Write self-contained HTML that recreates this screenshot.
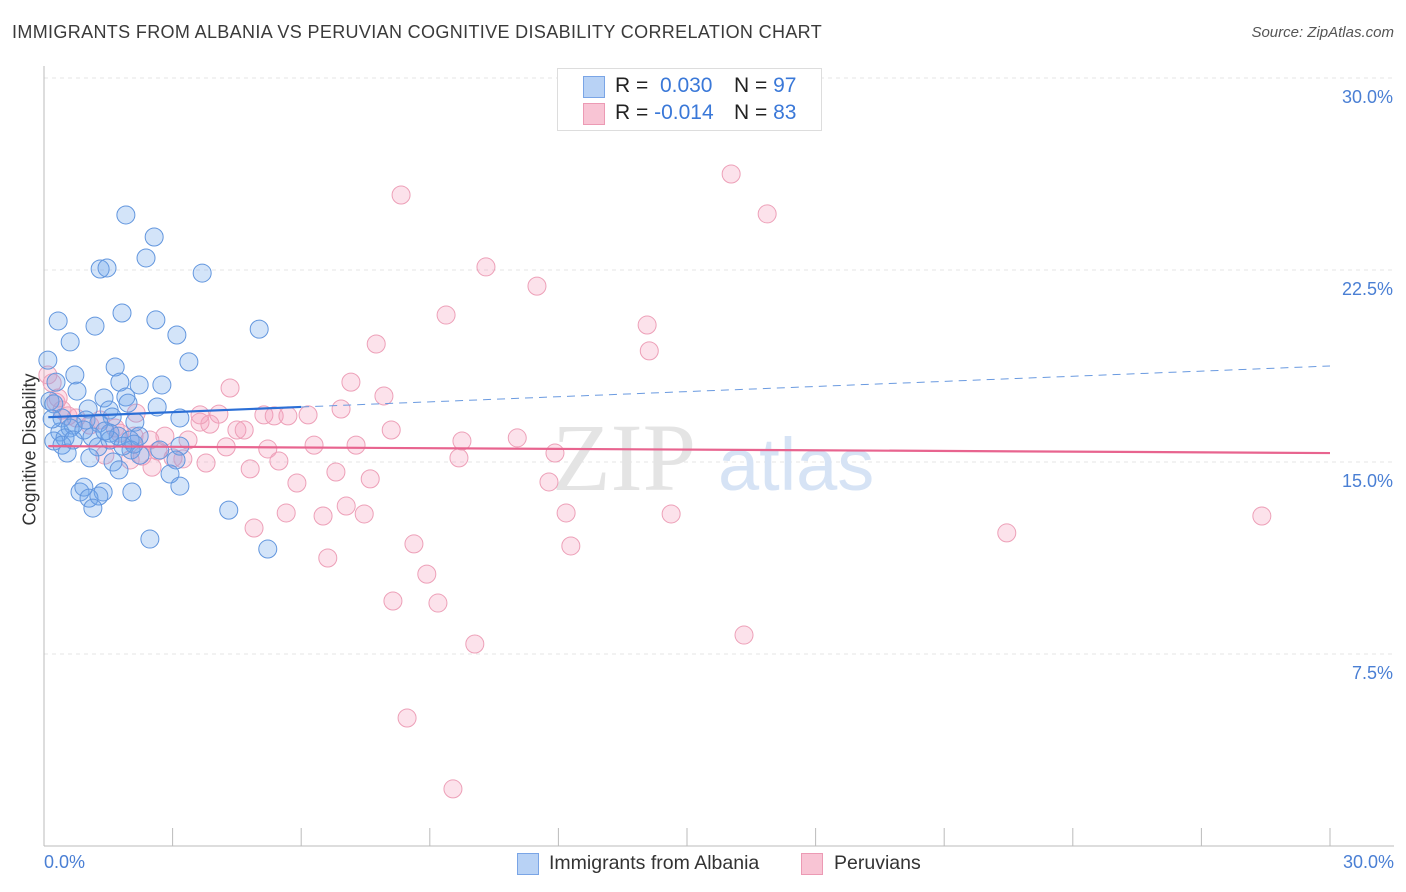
<!DOCTYPE html>
<html><head><meta charset="utf-8"><style>
body{margin:0;background:#fff;font-family:"Liberation Sans",sans-serif;}
#wrap{position:relative;width:1406px;height:892px;overflow:hidden;}
.t{position:absolute;white-space:nowrap;}
</style></head><body>
<div id="wrap">
<div class="t" style="left:12px;top:22px;font-size:18px;color:#3a3a3a;letter-spacing:0.35px">IMMIGRANTS FROM ALBANIA VS PERUVIAN COGNITIVE DISABILITY CORRELATION CHART</div>
<div class="t" style="right:12px;top:24px;font-size:15px;color:#555;font-style:italic">Source: ZipAtlas.com</div>
<svg id="svg" width="1406" height="892" style="position:absolute;left:0;top:0"></svg>
</div>
<script>
const xTicks=[0,3,6,9,12,15,18,21,24,27,30];
const yTicks=[7.5,15,22.5,30];
const yTickLabels=["7.5%","15.0%","22.5%","30.0%"];
const blueX=[1.91,2.57,2.38,1.31,1.47,3.69,1.82,0.33,2.61,1.19,3.10,5.02,0.61,3.38,1.66,0.09,0.72,0.28,1.77,2.22,2.75,0.77,1.40,1.91,0.14,0.23,1.03,1.96,1.52,2.64,0.42,1.59,3.17,0.98,1.28,0.68,2.12,0.37,0.61,0.93,1.54,0.23,0.49,1.12,0.42,1.73,2.22,1.26,2.01,3.17,0.54,1.07,2.03,2.24,1.61,1.75,3.08,2.94,0.84,0.93,1.38,2.05,1.05,1.28,1.14,3.17,4.31,2.47,5.22,1.54,2.10,2.70,0.68,1.42,0.19,1.84];
const blueY=[24.65,23.79,22.97,22.54,22.58,22.38,20.82,20.51,20.55,20.31,19.96,20.19,19.69,18.91,18.71,18.98,18.40,18.12,18.12,18.01,18.01,17.77,17.50,17.54,17.38,17.27,17.07,17.30,17.03,17.15,16.72,16.76,16.72,16.64,16.52,16.44,16.56,16.17,16.33,16.25,16.13,15.82,15.94,15.98,15.66,16.01,16.01,15.59,15.86,15.62,15.35,15.16,15.47,15.27,15.00,14.69,15.08,14.53,13.83,14.02,13.83,13.83,13.59,13.67,13.20,14.06,13.12,11.99,11.60,15.86,15.70,15.47,15.86,16.21,16.68,15.62];
const pinkX=[8.33,16.03,16.87,10.31,11.50,9.38,14.07,14.12,7.75,7.16,4.34,7.93,6.93,6.16,4.08,5.13,5.37,5.69,3.64,3.87,4.50,4.67,8.10,11.04,9.75,2.82,3.36,6.30,7.28,4.25,5.22,2.66,11.92,2.29,3.24,5.48,9.68,3.01,3.78,2.52,4.81,6.81,7.61,5.90,11.78,3.64,2.15,5.65,6.51,7.05,7.47,12.18,14.63,4.90,8.63,12.29,22.46,28.41,6.62,8.93,8.14,9.19,16.33,10.05,8.47,9.54,0.28,0.42,0.56,0.75,1.07,1.77,2.10,2.47,0.09,0.19,1.31,1.66,2.01,1.42,0.33];
const pinkY=[25.43,26.25,24.69,22.62,21.87,20.74,20.35,19.34,19.61,18.12,17.89,17.58,17.07,16.84,16.87,16.84,16.80,16.80,16.56,16.48,16.25,16.25,16.25,15.94,15.82,16.01,15.86,15.66,15.66,15.59,15.51,15.43,15.35,15.23,15.12,15.04,15.16,15.16,14.96,14.80,14.73,14.61,14.34,14.18,14.22,16.84,16.91,13.01,12.89,13.28,12.97,13.01,12.97,12.42,11.80,11.72,12.23,12.89,11.25,10.62,9.57,9.49,8.24,7.89,5.00,2.23,17.34,17.03,16.80,16.72,16.44,16.13,16.01,15.86,18.40,18.09,16.64,16.33,15.08,15.27,17.50];
const blueTrendX=[0.1,6.0,30];
const blueTrendY=[16.75,17.15,18.75];
const pinkTrendX=[0.1,30];
const pinkTrendY=[15.62,15.35];

const X0=44,X1=1330,Y0=846,Y1=78;
const sx=v=>X0+(v/30)*(X1-X0);
const sy=v=>Y0-(v/30)*(Y0-Y1);
const svg=document.getElementById('svg');
const NS='http://www.w3.org/2000/svg';
function mk(tag,attrs,parent){const e=document.createElementNS(NS,tag);for(const k in attrs)e.setAttribute(k,attrs[k]);(parent||svg).appendChild(e);return e;}

yTicks.forEach((t,i)=>{
 const g=mk('line',{x1:X0,x2:1394,y1:sy(t),y2:sy(t),stroke:'#e4e4e4','stroke-dasharray':'4,4','stroke-width':1});
 
 
 const l=mk('text',{x:1393,y:sy(t)+25,'text-anchor':'end','font-size':18,fill:'#4a7fd4','font-family':'Liberation Sans, sans-serif'});
 l.textContent=yTickLabels[i];
 
 
});
const ax=mk('line',{x1:X0,x2:X0,y1:66,y2:Y0,stroke:'#bbb','stroke-width':1});


const bx=mk('line',{x1:X0,x2:1394,y1:Y0,y2:Y0,stroke:'#bbb','stroke-width':1});


xTicks.forEach(t=>{
 const tk=mk('line',{x1:sx(t),x2:sx(t),y1:828,y2:Y0,stroke:'#bbb','stroke-width':1});
 
 
});
const wm=mk('text',{x:552,y:490,'font-size':96,fill:'#e4e4e4','font-family':'Liberation Serif, serif'});
wm.textContent='ZIP';


const wm2=mk('text',{x:718,y:490,'font-size':74,fill:'#d6e3f5','font-family':'Liberation Sans, sans-serif'});
wm2.textContent='atlas';



pinkX.forEach((v,i)=>{
 const c=mk('circle',{cx:sx(v),cy:sy(pinkY[i]),r:9,fill:'rgba(244,160,190,0.3)',stroke:'#eda0b8','stroke-width':1});
 
 
});
blueX.forEach((v,i)=>{
 const c=mk('circle',{cx:sx(v),cy:sy(blueY[i]),r:9,fill:'rgba(110,165,235,0.3)',stroke:'#6296de','stroke-width':1});
 
 
});
const bt1=mk('line',{x1:sx(blueTrendX[0]),y1:sy(blueTrendY[0]),x2:sx(blueTrendX[1]),y2:sy(blueTrendY[1]),stroke:'#2b6fd6','stroke-width':2.2});


const bt2=mk('line',{x1:sx(blueTrendX[1]),y1:sy(blueTrendY[1]),x2:sx(blueTrendX[2]),y2:sy(blueTrendY[2]),stroke:'#6a9ae0','stroke-width':1,'stroke-dasharray':'8,6'});


const pt=mk('line',{x1:sx(pinkTrendX[0]),y1:sy(pinkTrendY[0]),x2:sx(pinkTrendX[1]),y2:sy(pinkTrendY[1]),stroke:'#e8648f','stroke-width':2.2});


</script>
<div class="t" style="left:-40px;top:445px;width:140px;text-align:center;transform:rotate(-90deg);font-size:18px;color:#333">Cognitive Disability</div>
<div class="t" style="left:44px;top:852px;font-size:18px;color:#4a7fd4">0.0%</div>
<div class="t" style="right:12px;top:852px;font-size:18px;color:#4a7fd4">30.0%</div>
<div style="position:absolute;left:557px;top:68px;width:263px;height:61px;border:1px solid #ddd;background:#fff;font-size:21px;color:#222">
 <div style="position:absolute;left:25px;top:7px;width:20px;height:20px;background:#b8d2f5;border:1px solid #7aa5e6"></div>
 <div class="t" style="left:57px;top:5px">R = &nbsp;<span style="color:#3a78d8">0.030</span></div>
 <div class="t" style="left:176px;top:5px">N = <span style="color:#3a78d8">97</span></div>
 <div style="position:absolute;left:25px;top:34px;width:20px;height:20px;background:#f8c4d4;border:1px solid #ec9ab4"></div>
 <div class="t" style="left:57px;top:32px">R = <span style="color:#3a78d8">-0.014</span></div>
 <div class="t" style="left:176px;top:32px">N = <span style="color:#3a78d8">83</span></div>
</div>
<div style="position:absolute;left:517px;top:852px;font-size:19.5px;color:#333">
 <div style="position:absolute;left:0;top:0;width:300px">
  <div style="position:absolute;left:0;top:1px;width:20px;height:20px;background:#b8d2f5;border:1px solid #7aa5e6"></div>
  <div class="t" style="left:32px;top:0">Immigrants from Albania</div>
 </div>
 <div style="position:absolute;left:284px;top:0;width:150px">
  <div style="position:absolute;left:0;top:1px;width:20px;height:20px;background:#f8c4d4;border:1px solid #ec9ab4"></div>
  <div class="t" style="left:33px;top:0">Peruvians</div>
 </div>
</div>
</body></html>
